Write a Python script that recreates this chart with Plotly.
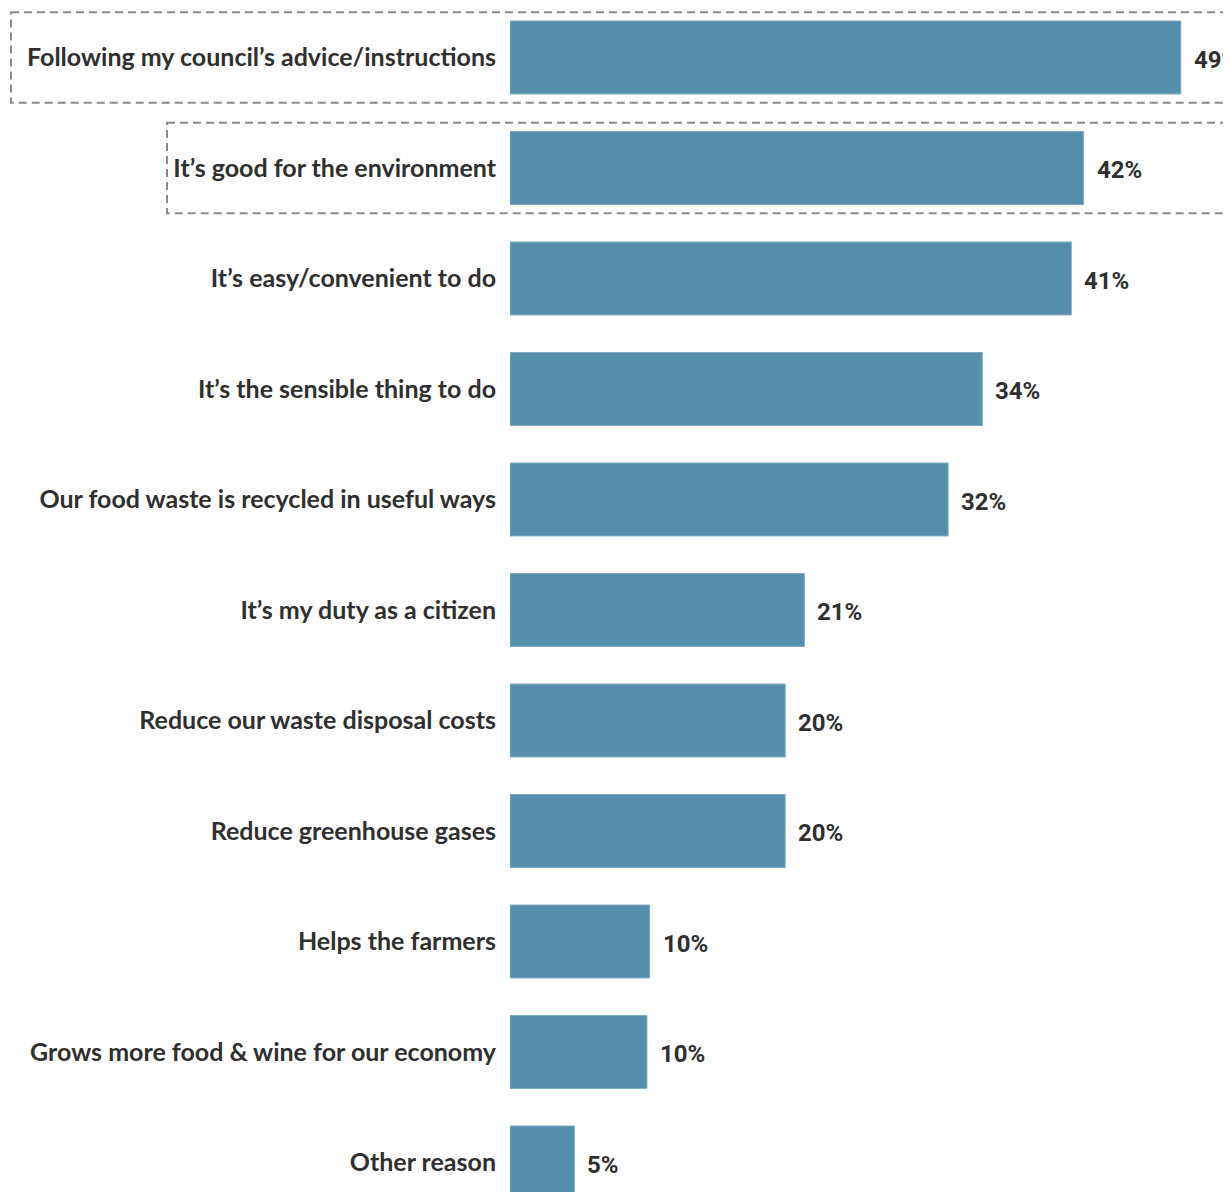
import plotly.graph_objects as go

categories = [
    "Following my council’s advice/instructions",
    "It’s good for the environment",
    "It’s easy/convenient to do",
    "It’s the sensible thing to do",
    "Our food waste is recycled in useful ways",
    "It’s my duty as a citizen",
    "Reduce our waste disposal costs",
    "Reduce greenhouse gases",
    "Helps the farmers",
    "Grows more food & wine for our economy",
    "Other reason",
]
values = [49.0, 41.9, 41.0, 34.5, 32.0, 21.5, 20.1, 20.1, 10.2, 10.0, 4.7]
value_labels = ["49%", "42%", "41%", "34%", "32%", "21%", "20%", "20%", "10%", "10%", "5%"]
highlighted = [0, 1]          # rows with a dashed box

# page has an 8px body margin; figure coordinates are offset accordingly
OFF = 8
W, H = 1231 - OFF, 1192 - OFF
L = 510 - OFF
box_left_px = [11 - OFF, 167 - OFF]
BAR_COLOR = "#568fab"
TEXT_COLOR = "#2f2f2f"

px_per_unit_x = 13.69
x_max = (W - L) / px_per_unit_x
pitch = 110.5
first_center = 57.5 - OFF
y_top = -first_center / pitch
y_bottom = (H - first_center) / pitch

fig = go.Figure()
fig.add_trace(go.Bar(
    x=values, y=list(range(len(categories))), orientation="h",
    marker=dict(color=BAR_COLOR, line=dict(color="#7ea9bf", width=1)),
    width=0.66, hoverinfo="skip",
))

for i, (v, lab) in enumerate(zip(values, value_labels)):
    fig.add_annotation(
        x=v, y=i, xref="x", yref="y", text=lab, showarrow=False,
        xanchor="left", yanchor="middle", xshift=11, yshift=-2,
        font=dict(family="Roboto", size=24, color=TEXT_COLOR, weight="bold"),
    )

for idx, left in zip(highlighted, box_left_px):
    fig.add_shape(
        type="rect", xref="paper", yref="y",
        x0=(left - L) / (W - L), x1=1.05, y0=idx - 0.41, y1=idx + 0.41,
        line=dict(color="#8a8a8a", width=2, dash="8px,5px"),
        fillcolor="rgba(0,0,0,0)", layer="above",
    )

fig.update_layout(
    width=W, height=H,
    margin=dict(l=L, r=0, t=0, b=0),
    paper_bgcolor="white", plot_bgcolor="white",
    showlegend=False,
    xaxis=dict(range=[0, x_max], visible=False, fixedrange=True),
    yaxis=dict(
        range=[y_bottom, y_top],
        tickmode="array", tickvals=list(range(len(categories))), ticktext=categories,
        ticks="", showgrid=False, zeroline=False, showline=False,
        ticklabelstandoff=13,
        tickfont=dict(family="Lato", size=25, color=TEXT_COLOR, weight="bold"),
    ),
)

fig.write_html("out.html")
